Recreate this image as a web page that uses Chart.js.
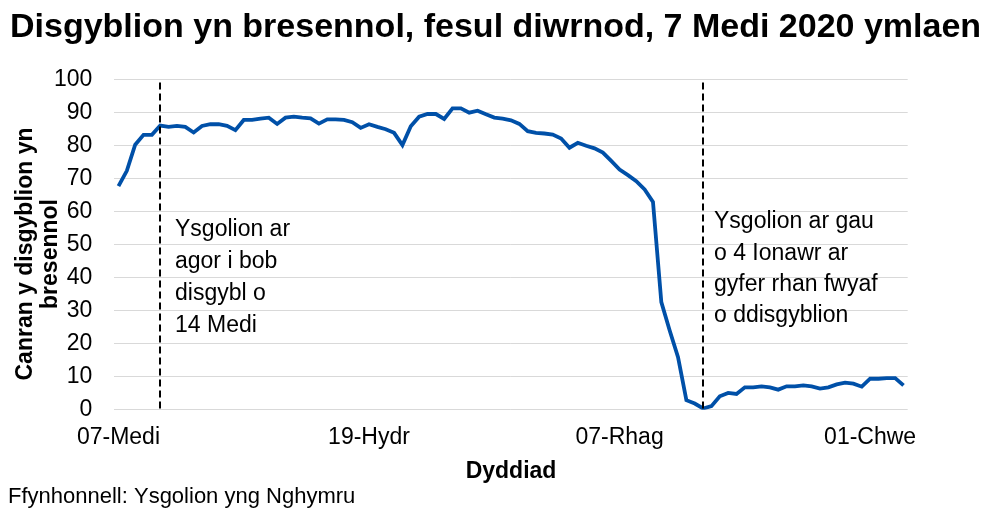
<!DOCTYPE html>
<html>
<head>
<meta charset="utf-8">
<script src="https://cdn.jsdelivr.net/npm/chart.js@4.4.1/dist/chart.umd.min.js"></script>
<style>
  html, body { margin: 0; padding: 0; background: #ffffff; }
  #wrap { width: 996px; height: 516px; position: relative; }
</style>
</head>
<body>
<div id="wrap"><canvas id="c" width="996" height="516"></canvas></div>
<script>
// ---- Data (school days only) ----
const dates = [
  '07-Medi','08-Medi','09-Medi','10-Medi','11-Medi',
  '14-Medi','15-Medi','16-Medi','17-Medi','18-Medi',
  '21-Medi','22-Medi','23-Medi','24-Medi','25-Medi',
  '28-Medi','29-Medi','30-Medi','01-Hydr','02-Hydr',
  '05-Hydr','06-Hydr','07-Hydr','08-Hydr','09-Hydr',
  '12-Hydr','13-Hydr','14-Hydr','15-Hydr','16-Hydr',
  '19-Hydr','20-Hydr','21-Hydr','22-Hydr','23-Hydr',
  '02-Tach','03-Tach','04-Tach','05-Tach','06-Tach',
  '09-Tach','10-Tach','11-Tach','12-Tach','13-Tach',
  '16-Tach','17-Tach','18-Tach','19-Tach','20-Tach',
  '23-Tach','24-Tach','25-Tach','26-Tach','27-Tach',
  '30-Tach','01-Rhag','02-Rhag','03-Rhag','04-Rhag',
  '07-Rhag','08-Rhag','09-Rhag','10-Rhag','11-Rhag',
  '14-Rhag','15-Rhag','16-Rhag','17-Rhag','18-Rhag',
  '04-Ion','05-Ion','06-Ion','07-Ion','08-Ion',
  '11-Ion','12-Ion','13-Ion','14-Ion','15-Ion',
  '18-Ion','19-Ion','20-Ion','21-Ion','22-Ion',
  '25-Ion','26-Ion','27-Ion','28-Ion','29-Ion',
  '01-Chwe','02-Chwe','03-Chwe','04-Chwe','05-Chwe'
];
const attendance = [
  67.7, 72.3, 80.2, 83.2, 83.2,
  86.0, 85.6, 85.9, 85.6, 83.9,
  85.9, 86.4, 86.4, 85.9, 84.6,
  87.7, 87.7, 88.1, 88.4, 86.5,
  88.4, 88.7, 88.4, 88.2, 86.6,
  87.9, 87.9, 87.7, 87.0, 85.3,
  86.4, 85.6, 84.9, 83.8, 80.1,
  85.8, 88.7, 89.5, 89.5, 88.0,
  91.2, 91.2, 89.9, 90.5, 89.4,
  88.4, 88.1, 87.6, 86.5, 84.3,
  83.8, 83.6, 83.3, 82.1, 79.3,
  80.8, 79.9, 79.1, 77.8, 75.3,
  72.7, 71.0, 69.2, 66.7, 62.9,
  32.6, 24.0, 15.9, 2.9, 1.9,
  0.4, 1.1, 4.1, 5.1, 4.8,
  6.8, 6.8, 7.1, 6.8, 6.1,
  7.1, 7.1, 7.4, 7.1, 6.4,
  6.8, 7.7, 8.2, 7.9, 7.0,
  9.4, 9.4, 9.6, 9.6, 7.4
];
const tickLabels = ['07-Medi', '19-Hydr', '07-Rhag', '01-Chwe'];
const yTicks = [0, 10, 20, 30, 40, 50, 60, 70, 80, 90, 100];

const chartTitle = 'Disgyblion yn bresennol, fesul diwrnod, 7 Medi 2020 ymlaen';
const yTitleLines = ['Canran y disgyblion yn', 'bresennol'];
const xTitle = 'Dyddiad';
const sourceText = 'Ffynhonnell: Ysgolion yng Nghymru';

const eventDates = ['14-Medi', '04-Ion'];
const eventNotes = [
  ['Ysgolion ar', 'agor i bob', 'disgybl o', '14 Medi'],
  ['Ysgolion ar gau', 'o 4 Ionawr ar', 'gyfer rhan fwyaf', 'o ddisgyblion']
];

// ---- Styles ----
const FONT = "'Liberation Sans', Arial, Helvetica, sans-serif";
const LINE_COLOR = '#0050a8';
const GRID_COLOR = '#d9d9d9';

const extrasPlugin = {
  id: 'extras',
  afterDatasetsDraw(chart) {
    const ctx = chart.ctx;
    const xs = chart.scales.x;
    const ys = chart.scales.y;
    const area = chart.chartArea;
    ctx.save();
    const noteCfg = [
      { dx: 15, y0: 230, step: 32 },
      { dx: 11, y0: 222, step: 31.3 }
    ];
    eventDates.forEach((d, k) => {
      const px = Math.round(xs.getPixelForValue(dates.indexOf(d)));
      ctx.beginPath();
      ctx.setLineDash([7, 4]);
      ctx.lineWidth = 2;
      ctx.strokeStyle = '#000000';
      ctx.moveTo(px, ys.getPixelForValue(99));
      ctx.lineTo(px, area.bottom);
      ctx.stroke();
      ctx.setLineDash([]);
      ctx.fillStyle = '#000000';
      ctx.font = '23px ' + FONT;
      ctx.textAlign = 'left';
      ctx.textBaseline = 'middle';
      eventNotes[k].forEach((t, j) => {
        ctx.fillText(t, px + noteCfg[k].dx, noteCfg[k].y0 + j * noteCfg[k].step);
      });
    });
    ctx.restore();
  },
  afterDraw(chart) {
    const ctx = chart.ctx;
    const area = chart.chartArea;
    ctx.save();
    ctx.fillStyle = '#000000';
    ctx.font = 'bold 34px ' + FONT;
    ctx.textAlign = 'left';
    ctx.textBaseline = 'alphabetic';
    ctx.fillText(chartTitle, 10, 37);
    ctx.font = 'bold 23px ' + FONT;
    ctx.textAlign = 'center';
    const yMid = 254;
    yTitleLines.forEach((t, j) => {
      ctx.save();
      ctx.translate(32 + j * 24.5, yMid);
      ctx.rotate(-Math.PI / 2);
      ctx.fillText(t, 0, 0);
      ctx.restore();
    });
    ctx.fillText(xTitle, (area.left + area.right) / 2, 478);
    ctx.font = '22px ' + FONT;
    ctx.textAlign = 'left';
    ctx.fillText(sourceText, 8, 503);
    ctx.restore();
  }
};

new Chart(document.getElementById('c'), {
  type: 'line',
  data: {
    labels: dates,
    datasets: [{
      data: attendance,
      borderColor: LINE_COLOR,
      backgroundColor: LINE_COLOR,
      borderWidth: 3.8,
      pointRadius: 0,
      tension: 0,
      fill: false
    }]
  },
  options: {
    responsive: false,
    animation: false,
    devicePixelRatio: 1,
    layout: { padding: { left: 0, top: 79.3, right: 88.3, bottom: 0 } },
    plugins: {
      legend: { display: false },
      title: { display: false },
      tooltip: { enabled: false }
    },
    scales: {
      x: {
        type: 'category',
        offset: true,
        grid: { display: false, drawTicks: false },
        border: { display: false },
        ticks: {
          autoSkip: false,
          maxRotation: 0,
          minRotation: 0,
          padding: 14,
          color: '#000000',
          font: { family: FONT, size: 23 },
          callback: function (v) {
            const l = this.getLabelForValue(v);
            return tickLabels.includes(l) ? l : '';
          }
        },
        afterFit(scale) { scale.height = 106.2; }
      },
      y: {
        min: 0,
        max: 100,
        afterBuildTicks(scale) { scale.ticks = yTicks.map(v => ({ value: v })); },
        grid: { color: GRID_COLOR, lineWidth: 1, drawTicks: false },
        border: { display: false },
        ticks: {
          padding: 22,
          color: '#000000',
          font: { family: FONT, size: 23 }
        },
        afterFit(scale) { scale.width = 114.3; }
      }
    }
  },
  plugins: [extrasPlugin]
});
</script>
</body>
</html>
